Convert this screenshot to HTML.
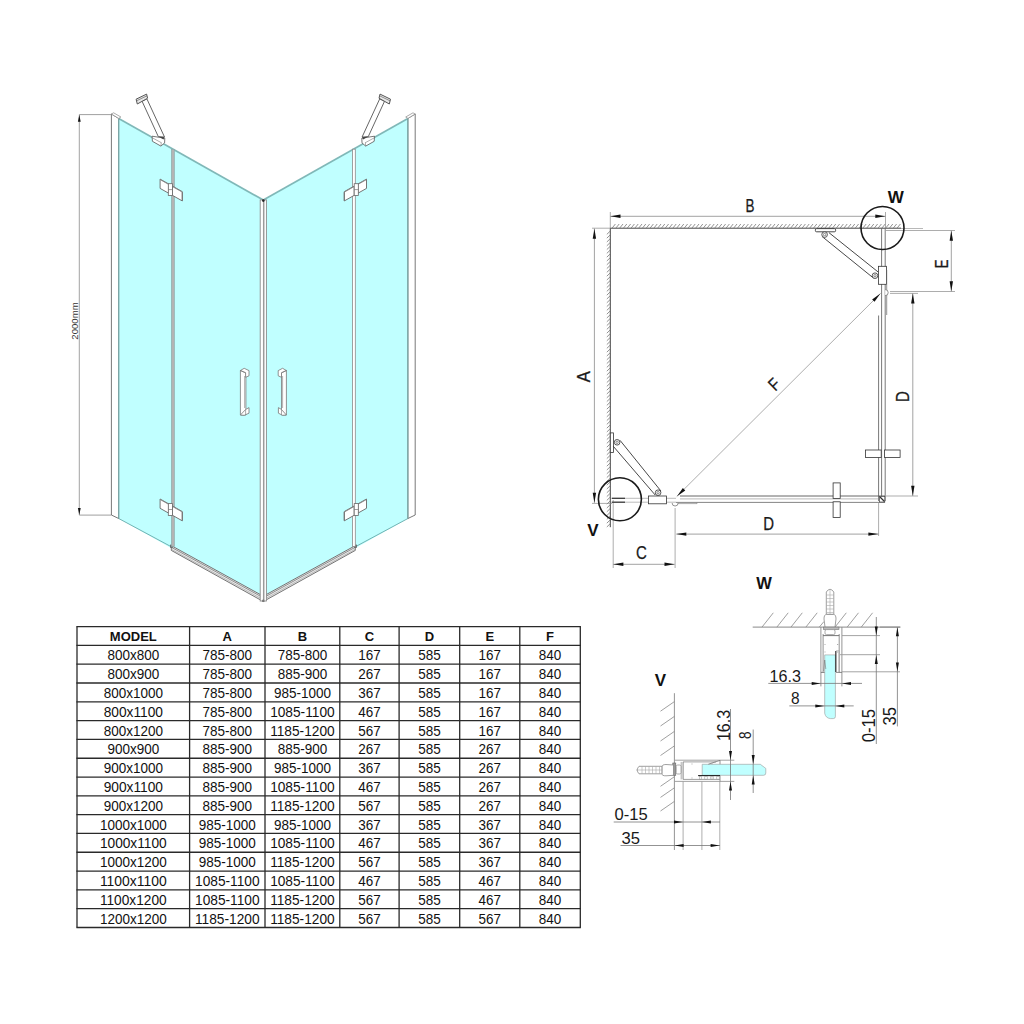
<!DOCTYPE html>
<html><head><meta charset="utf-8"><style>
html,body{margin:0;padding:0;background:#fff;}
svg{display:block;font-family:"Liberation Sans", sans-serif;}
</style></head><body>
<svg width="1024" height="1024" viewBox="0 0 1024 1024">
<rect x="0" y="0" width="1024" height="1024" fill="#fff"/>
<g>
<line x1="76.4" y1="626.6" x2="580.9" y2="626.6" stroke="#2a2a2a" stroke-width="1.3" />
<line x1="76.4" y1="645.41" x2="580.9" y2="645.41" stroke="#2a2a2a" stroke-width="1.3" />
<line x1="76.4" y1="664.21" x2="580.9" y2="664.21" stroke="#2a2a2a" stroke-width="1.3" />
<line x1="76.4" y1="683.02" x2="580.9" y2="683.02" stroke="#2a2a2a" stroke-width="1.3" />
<line x1="76.4" y1="701.83" x2="580.9" y2="701.83" stroke="#2a2a2a" stroke-width="1.3" />
<line x1="76.4" y1="720.63" x2="580.9" y2="720.63" stroke="#2a2a2a" stroke-width="1.3" />
<line x1="76.4" y1="739.44" x2="580.9" y2="739.44" stroke="#2a2a2a" stroke-width="1.3" />
<line x1="76.4" y1="758.24" x2="580.9" y2="758.24" stroke="#2a2a2a" stroke-width="1.3" />
<line x1="76.4" y1="777.05" x2="580.9" y2="777.05" stroke="#2a2a2a" stroke-width="1.3" />
<line x1="76.4" y1="795.86" x2="580.9" y2="795.86" stroke="#2a2a2a" stroke-width="1.3" />
<line x1="76.4" y1="814.66" x2="580.9" y2="814.66" stroke="#2a2a2a" stroke-width="1.3" />
<line x1="76.4" y1="833.47" x2="580.9" y2="833.47" stroke="#2a2a2a" stroke-width="1.3" />
<line x1="76.4" y1="852.27" x2="580.9" y2="852.27" stroke="#2a2a2a" stroke-width="1.3" />
<line x1="76.4" y1="871.08" x2="580.9" y2="871.08" stroke="#2a2a2a" stroke-width="1.3" />
<line x1="76.4" y1="889.89" x2="580.9" y2="889.89" stroke="#2a2a2a" stroke-width="1.3" />
<line x1="76.4" y1="908.69" x2="580.9" y2="908.69" stroke="#2a2a2a" stroke-width="1.3" />
<line x1="76.4" y1="927.5" x2="580.9" y2="927.5" stroke="#2a2a2a" stroke-width="1.3" />
<line x1="77" y1="626.6" x2="77" y2="927.5" stroke="#2a2a2a" stroke-width="1.3" />
<line x1="189.6" y1="626.6" x2="189.6" y2="927.5" stroke="#2a2a2a" stroke-width="1.3" />
<line x1="265" y1="626.6" x2="265" y2="927.5" stroke="#2a2a2a" stroke-width="1.3" />
<line x1="339.8" y1="626.6" x2="339.8" y2="927.5" stroke="#2a2a2a" stroke-width="1.3" />
<line x1="399.1" y1="626.6" x2="399.1" y2="927.5" stroke="#2a2a2a" stroke-width="1.3" />
<line x1="459.7" y1="626.6" x2="459.7" y2="927.5" stroke="#2a2a2a" stroke-width="1.3" />
<line x1="519.8" y1="626.6" x2="519.8" y2="927.5" stroke="#2a2a2a" stroke-width="1.3" />
<line x1="580.3" y1="626.6" x2="580.3" y2="927.5" stroke="#2a2a2a" stroke-width="1.3" />
<text x="133.3" y="640.7" font-size="13" text-anchor="middle" font-weight="bold" fill="#111" >MODEL</text>
<text x="227.3" y="640.7" font-size="13" text-anchor="middle" font-weight="bold" fill="#111" >A</text>
<text x="302.4" y="640.7" font-size="13" text-anchor="middle" font-weight="bold" fill="#111" >B</text>
<text x="369.45" y="640.7" font-size="13" text-anchor="middle" font-weight="bold" fill="#111" >C</text>
<text x="429.4" y="640.7" font-size="13" text-anchor="middle" font-weight="bold" fill="#111" >D</text>
<text x="489.75" y="640.7" font-size="13" text-anchor="middle" font-weight="bold" fill="#111" >E</text>
<text x="550.05" y="640.7" font-size="13" text-anchor="middle" font-weight="bold" fill="#111" >F</text>
<text x="133.3" y="660.41" font-size="14.6" text-anchor="middle" font-weight="normal" fill="#111" textLength="51.79" lengthAdjust="spacingAndGlyphs" >800x800</text>
<text x="227.3" y="660.41" font-size="14.6" text-anchor="middle" font-weight="normal" fill="#111" textLength="49.53" lengthAdjust="spacingAndGlyphs" >785-800</text>
<text x="302.4" y="660.41" font-size="14.6" text-anchor="middle" font-weight="normal" fill="#111" textLength="49.53" lengthAdjust="spacingAndGlyphs" >785-800</text>
<text x="369.45" y="660.41" font-size="14.6" text-anchor="middle" font-weight="normal" fill="#111" textLength="22.52" lengthAdjust="spacingAndGlyphs" >167</text>
<text x="429.4" y="660.41" font-size="14.6" text-anchor="middle" font-weight="normal" fill="#111" textLength="22.52" lengthAdjust="spacingAndGlyphs" >585</text>
<text x="489.75" y="660.41" font-size="14.6" text-anchor="middle" font-weight="normal" fill="#111" textLength="22.52" lengthAdjust="spacingAndGlyphs" >167</text>
<text x="550.05" y="660.41" font-size="14.6" text-anchor="middle" font-weight="normal" fill="#111" textLength="22.52" lengthAdjust="spacingAndGlyphs" >840</text>
<text x="133.3" y="679.22" font-size="14.6" text-anchor="middle" font-weight="normal" fill="#111" textLength="51.79" lengthAdjust="spacingAndGlyphs" >800x900</text>
<text x="227.3" y="679.22" font-size="14.6" text-anchor="middle" font-weight="normal" fill="#111" textLength="49.53" lengthAdjust="spacingAndGlyphs" >785-800</text>
<text x="302.4" y="679.22" font-size="14.6" text-anchor="middle" font-weight="normal" fill="#111" textLength="49.53" lengthAdjust="spacingAndGlyphs" >885-900</text>
<text x="369.45" y="679.22" font-size="14.6" text-anchor="middle" font-weight="normal" fill="#111" textLength="22.52" lengthAdjust="spacingAndGlyphs" >267</text>
<text x="429.4" y="679.22" font-size="14.6" text-anchor="middle" font-weight="normal" fill="#111" textLength="22.52" lengthAdjust="spacingAndGlyphs" >585</text>
<text x="489.75" y="679.22" font-size="14.6" text-anchor="middle" font-weight="normal" fill="#111" textLength="22.52" lengthAdjust="spacingAndGlyphs" >167</text>
<text x="550.05" y="679.22" font-size="14.6" text-anchor="middle" font-weight="normal" fill="#111" textLength="22.52" lengthAdjust="spacingAndGlyphs" >840</text>
<text x="133.3" y="698.02" font-size="14.6" text-anchor="middle" font-weight="normal" fill="#111" textLength="59.29" lengthAdjust="spacingAndGlyphs" >800x1000</text>
<text x="227.3" y="698.02" font-size="14.6" text-anchor="middle" font-weight="normal" fill="#111" textLength="49.53" lengthAdjust="spacingAndGlyphs" >785-800</text>
<text x="302.4" y="698.02" font-size="14.6" text-anchor="middle" font-weight="normal" fill="#111" textLength="57.04" lengthAdjust="spacingAndGlyphs" >985-1000</text>
<text x="369.45" y="698.02" font-size="14.6" text-anchor="middle" font-weight="normal" fill="#111" textLength="22.52" lengthAdjust="spacingAndGlyphs" >367</text>
<text x="429.4" y="698.02" font-size="14.6" text-anchor="middle" font-weight="normal" fill="#111" textLength="22.52" lengthAdjust="spacingAndGlyphs" >585</text>
<text x="489.75" y="698.02" font-size="14.6" text-anchor="middle" font-weight="normal" fill="#111" textLength="22.52" lengthAdjust="spacingAndGlyphs" >167</text>
<text x="550.05" y="698.02" font-size="14.6" text-anchor="middle" font-weight="normal" fill="#111" textLength="22.52" lengthAdjust="spacingAndGlyphs" >840</text>
<text x="133.3" y="716.83" font-size="14.6" text-anchor="middle" font-weight="normal" fill="#111" textLength="59.29" lengthAdjust="spacingAndGlyphs" >800x1100</text>
<text x="227.3" y="716.83" font-size="14.6" text-anchor="middle" font-weight="normal" fill="#111" textLength="49.53" lengthAdjust="spacingAndGlyphs" >785-800</text>
<text x="302.4" y="716.83" font-size="14.6" text-anchor="middle" font-weight="normal" fill="#111" textLength="64.54" lengthAdjust="spacingAndGlyphs" >1085-1100</text>
<text x="369.45" y="716.83" font-size="14.6" text-anchor="middle" font-weight="normal" fill="#111" textLength="22.52" lengthAdjust="spacingAndGlyphs" >467</text>
<text x="429.4" y="716.83" font-size="14.6" text-anchor="middle" font-weight="normal" fill="#111" textLength="22.52" lengthAdjust="spacingAndGlyphs" >585</text>
<text x="489.75" y="716.83" font-size="14.6" text-anchor="middle" font-weight="normal" fill="#111" textLength="22.52" lengthAdjust="spacingAndGlyphs" >167</text>
<text x="550.05" y="716.83" font-size="14.6" text-anchor="middle" font-weight="normal" fill="#111" textLength="22.52" lengthAdjust="spacingAndGlyphs" >840</text>
<text x="133.3" y="735.63" font-size="14.6" text-anchor="middle" font-weight="normal" fill="#111" textLength="59.29" lengthAdjust="spacingAndGlyphs" >800x1200</text>
<text x="227.3" y="735.63" font-size="14.6" text-anchor="middle" font-weight="normal" fill="#111" textLength="49.53" lengthAdjust="spacingAndGlyphs" >785-800</text>
<text x="302.4" y="735.63" font-size="14.6" text-anchor="middle" font-weight="normal" fill="#111" textLength="64.54" lengthAdjust="spacingAndGlyphs" >1185-1200</text>
<text x="369.45" y="735.63" font-size="14.6" text-anchor="middle" font-weight="normal" fill="#111" textLength="22.52" lengthAdjust="spacingAndGlyphs" >567</text>
<text x="429.4" y="735.63" font-size="14.6" text-anchor="middle" font-weight="normal" fill="#111" textLength="22.52" lengthAdjust="spacingAndGlyphs" >585</text>
<text x="489.75" y="735.63" font-size="14.6" text-anchor="middle" font-weight="normal" fill="#111" textLength="22.52" lengthAdjust="spacingAndGlyphs" >167</text>
<text x="550.05" y="735.63" font-size="14.6" text-anchor="middle" font-weight="normal" fill="#111" textLength="22.52" lengthAdjust="spacingAndGlyphs" >840</text>
<text x="133.3" y="754.44" font-size="14.6" text-anchor="middle" font-weight="normal" fill="#111" textLength="51.79" lengthAdjust="spacingAndGlyphs" >900x900</text>
<text x="227.3" y="754.44" font-size="14.6" text-anchor="middle" font-weight="normal" fill="#111" textLength="49.53" lengthAdjust="spacingAndGlyphs" >885-900</text>
<text x="302.4" y="754.44" font-size="14.6" text-anchor="middle" font-weight="normal" fill="#111" textLength="49.53" lengthAdjust="spacingAndGlyphs" >885-900</text>
<text x="369.45" y="754.44" font-size="14.6" text-anchor="middle" font-weight="normal" fill="#111" textLength="22.52" lengthAdjust="spacingAndGlyphs" >267</text>
<text x="429.4" y="754.44" font-size="14.6" text-anchor="middle" font-weight="normal" fill="#111" textLength="22.52" lengthAdjust="spacingAndGlyphs" >585</text>
<text x="489.75" y="754.44" font-size="14.6" text-anchor="middle" font-weight="normal" fill="#111" textLength="22.52" lengthAdjust="spacingAndGlyphs" >267</text>
<text x="550.05" y="754.44" font-size="14.6" text-anchor="middle" font-weight="normal" fill="#111" textLength="22.52" lengthAdjust="spacingAndGlyphs" >840</text>
<text x="133.3" y="773.25" font-size="14.6" text-anchor="middle" font-weight="normal" fill="#111" textLength="59.29" lengthAdjust="spacingAndGlyphs" >900x1000</text>
<text x="227.3" y="773.25" font-size="14.6" text-anchor="middle" font-weight="normal" fill="#111" textLength="49.53" lengthAdjust="spacingAndGlyphs" >885-900</text>
<text x="302.4" y="773.25" font-size="14.6" text-anchor="middle" font-weight="normal" fill="#111" textLength="57.04" lengthAdjust="spacingAndGlyphs" >985-1000</text>
<text x="369.45" y="773.25" font-size="14.6" text-anchor="middle" font-weight="normal" fill="#111" textLength="22.52" lengthAdjust="spacingAndGlyphs" >367</text>
<text x="429.4" y="773.25" font-size="14.6" text-anchor="middle" font-weight="normal" fill="#111" textLength="22.52" lengthAdjust="spacingAndGlyphs" >585</text>
<text x="489.75" y="773.25" font-size="14.6" text-anchor="middle" font-weight="normal" fill="#111" textLength="22.52" lengthAdjust="spacingAndGlyphs" >267</text>
<text x="550.05" y="773.25" font-size="14.6" text-anchor="middle" font-weight="normal" fill="#111" textLength="22.52" lengthAdjust="spacingAndGlyphs" >840</text>
<text x="133.3" y="792.05" font-size="14.6" text-anchor="middle" font-weight="normal" fill="#111" textLength="59.29" lengthAdjust="spacingAndGlyphs" >900x1100</text>
<text x="227.3" y="792.05" font-size="14.6" text-anchor="middle" font-weight="normal" fill="#111" textLength="49.53" lengthAdjust="spacingAndGlyphs" >885-900</text>
<text x="302.4" y="792.05" font-size="14.6" text-anchor="middle" font-weight="normal" fill="#111" textLength="64.54" lengthAdjust="spacingAndGlyphs" >1085-1100</text>
<text x="369.45" y="792.05" font-size="14.6" text-anchor="middle" font-weight="normal" fill="#111" textLength="22.52" lengthAdjust="spacingAndGlyphs" >467</text>
<text x="429.4" y="792.05" font-size="14.6" text-anchor="middle" font-weight="normal" fill="#111" textLength="22.52" lengthAdjust="spacingAndGlyphs" >585</text>
<text x="489.75" y="792.05" font-size="14.6" text-anchor="middle" font-weight="normal" fill="#111" textLength="22.52" lengthAdjust="spacingAndGlyphs" >267</text>
<text x="550.05" y="792.05" font-size="14.6" text-anchor="middle" font-weight="normal" fill="#111" textLength="22.52" lengthAdjust="spacingAndGlyphs" >840</text>
<text x="133.3" y="810.86" font-size="14.6" text-anchor="middle" font-weight="normal" fill="#111" textLength="59.29" lengthAdjust="spacingAndGlyphs" >900x1200</text>
<text x="227.3" y="810.86" font-size="14.6" text-anchor="middle" font-weight="normal" fill="#111" textLength="49.53" lengthAdjust="spacingAndGlyphs" >885-900</text>
<text x="302.4" y="810.86" font-size="14.6" text-anchor="middle" font-weight="normal" fill="#111" textLength="64.54" lengthAdjust="spacingAndGlyphs" >1185-1200</text>
<text x="369.45" y="810.86" font-size="14.6" text-anchor="middle" font-weight="normal" fill="#111" textLength="22.52" lengthAdjust="spacingAndGlyphs" >567</text>
<text x="429.4" y="810.86" font-size="14.6" text-anchor="middle" font-weight="normal" fill="#111" textLength="22.52" lengthAdjust="spacingAndGlyphs" >585</text>
<text x="489.75" y="810.86" font-size="14.6" text-anchor="middle" font-weight="normal" fill="#111" textLength="22.52" lengthAdjust="spacingAndGlyphs" >267</text>
<text x="550.05" y="810.86" font-size="14.6" text-anchor="middle" font-weight="normal" fill="#111" textLength="22.52" lengthAdjust="spacingAndGlyphs" >840</text>
<text x="133.3" y="829.67" font-size="14.6" text-anchor="middle" font-weight="normal" fill="#111" textLength="66.8" lengthAdjust="spacingAndGlyphs" >1000x1000</text>
<text x="227.3" y="829.67" font-size="14.6" text-anchor="middle" font-weight="normal" fill="#111" textLength="57.04" lengthAdjust="spacingAndGlyphs" >985-1000</text>
<text x="302.4" y="829.67" font-size="14.6" text-anchor="middle" font-weight="normal" fill="#111" textLength="57.04" lengthAdjust="spacingAndGlyphs" >985-1000</text>
<text x="369.45" y="829.67" font-size="14.6" text-anchor="middle" font-weight="normal" fill="#111" textLength="22.52" lengthAdjust="spacingAndGlyphs" >367</text>
<text x="429.4" y="829.67" font-size="14.6" text-anchor="middle" font-weight="normal" fill="#111" textLength="22.52" lengthAdjust="spacingAndGlyphs" >585</text>
<text x="489.75" y="829.67" font-size="14.6" text-anchor="middle" font-weight="normal" fill="#111" textLength="22.52" lengthAdjust="spacingAndGlyphs" >367</text>
<text x="550.05" y="829.67" font-size="14.6" text-anchor="middle" font-weight="normal" fill="#111" textLength="22.52" lengthAdjust="spacingAndGlyphs" >840</text>
<text x="133.3" y="848.47" font-size="14.6" text-anchor="middle" font-weight="normal" fill="#111" textLength="66.8" lengthAdjust="spacingAndGlyphs" >1000x1100</text>
<text x="227.3" y="848.47" font-size="14.6" text-anchor="middle" font-weight="normal" fill="#111" textLength="57.04" lengthAdjust="spacingAndGlyphs" >985-1000</text>
<text x="302.4" y="848.47" font-size="14.6" text-anchor="middle" font-weight="normal" fill="#111" textLength="64.54" lengthAdjust="spacingAndGlyphs" >1085-1100</text>
<text x="369.45" y="848.47" font-size="14.6" text-anchor="middle" font-weight="normal" fill="#111" textLength="22.52" lengthAdjust="spacingAndGlyphs" >467</text>
<text x="429.4" y="848.47" font-size="14.6" text-anchor="middle" font-weight="normal" fill="#111" textLength="22.52" lengthAdjust="spacingAndGlyphs" >585</text>
<text x="489.75" y="848.47" font-size="14.6" text-anchor="middle" font-weight="normal" fill="#111" textLength="22.52" lengthAdjust="spacingAndGlyphs" >367</text>
<text x="550.05" y="848.47" font-size="14.6" text-anchor="middle" font-weight="normal" fill="#111" textLength="22.52" lengthAdjust="spacingAndGlyphs" >840</text>
<text x="133.3" y="867.28" font-size="14.6" text-anchor="middle" font-weight="normal" fill="#111" textLength="66.8" lengthAdjust="spacingAndGlyphs" >1000x1200</text>
<text x="227.3" y="867.28" font-size="14.6" text-anchor="middle" font-weight="normal" fill="#111" textLength="57.04" lengthAdjust="spacingAndGlyphs" >985-1000</text>
<text x="302.4" y="867.28" font-size="14.6" text-anchor="middle" font-weight="normal" fill="#111" textLength="64.54" lengthAdjust="spacingAndGlyphs" >1185-1200</text>
<text x="369.45" y="867.28" font-size="14.6" text-anchor="middle" font-weight="normal" fill="#111" textLength="22.52" lengthAdjust="spacingAndGlyphs" >567</text>
<text x="429.4" y="867.28" font-size="14.6" text-anchor="middle" font-weight="normal" fill="#111" textLength="22.52" lengthAdjust="spacingAndGlyphs" >585</text>
<text x="489.75" y="867.28" font-size="14.6" text-anchor="middle" font-weight="normal" fill="#111" textLength="22.52" lengthAdjust="spacingAndGlyphs" >367</text>
<text x="550.05" y="867.28" font-size="14.6" text-anchor="middle" font-weight="normal" fill="#111" textLength="22.52" lengthAdjust="spacingAndGlyphs" >840</text>
<text x="133.3" y="886.08" font-size="14.6" text-anchor="middle" font-weight="normal" fill="#111" textLength="66.8" lengthAdjust="spacingAndGlyphs" >1100x1100</text>
<text x="227.3" y="886.08" font-size="14.6" text-anchor="middle" font-weight="normal" fill="#111" textLength="64.54" lengthAdjust="spacingAndGlyphs" >1085-1100</text>
<text x="302.4" y="886.08" font-size="14.6" text-anchor="middle" font-weight="normal" fill="#111" textLength="64.54" lengthAdjust="spacingAndGlyphs" >1085-1100</text>
<text x="369.45" y="886.08" font-size="14.6" text-anchor="middle" font-weight="normal" fill="#111" textLength="22.52" lengthAdjust="spacingAndGlyphs" >467</text>
<text x="429.4" y="886.08" font-size="14.6" text-anchor="middle" font-weight="normal" fill="#111" textLength="22.52" lengthAdjust="spacingAndGlyphs" >585</text>
<text x="489.75" y="886.08" font-size="14.6" text-anchor="middle" font-weight="normal" fill="#111" textLength="22.52" lengthAdjust="spacingAndGlyphs" >467</text>
<text x="550.05" y="886.08" font-size="14.6" text-anchor="middle" font-weight="normal" fill="#111" textLength="22.52" lengthAdjust="spacingAndGlyphs" >840</text>
<text x="133.3" y="904.89" font-size="14.6" text-anchor="middle" font-weight="normal" fill="#111" textLength="66.8" lengthAdjust="spacingAndGlyphs" >1100x1200</text>
<text x="227.3" y="904.89" font-size="14.6" text-anchor="middle" font-weight="normal" fill="#111" textLength="64.54" lengthAdjust="spacingAndGlyphs" >1085-1100</text>
<text x="302.4" y="904.89" font-size="14.6" text-anchor="middle" font-weight="normal" fill="#111" textLength="64.54" lengthAdjust="spacingAndGlyphs" >1185-1200</text>
<text x="369.45" y="904.89" font-size="14.6" text-anchor="middle" font-weight="normal" fill="#111" textLength="22.52" lengthAdjust="spacingAndGlyphs" >567</text>
<text x="429.4" y="904.89" font-size="14.6" text-anchor="middle" font-weight="normal" fill="#111" textLength="22.52" lengthAdjust="spacingAndGlyphs" >585</text>
<text x="489.75" y="904.89" font-size="14.6" text-anchor="middle" font-weight="normal" fill="#111" textLength="22.52" lengthAdjust="spacingAndGlyphs" >467</text>
<text x="550.05" y="904.89" font-size="14.6" text-anchor="middle" font-weight="normal" fill="#111" textLength="22.52" lengthAdjust="spacingAndGlyphs" >840</text>
<text x="133.3" y="923.7" font-size="14.6" text-anchor="middle" font-weight="normal" fill="#111" textLength="66.8" lengthAdjust="spacingAndGlyphs" >1200x1200</text>
<text x="227.3" y="923.7" font-size="14.6" text-anchor="middle" font-weight="normal" fill="#111" textLength="64.54" lengthAdjust="spacingAndGlyphs" >1185-1200</text>
<text x="302.4" y="923.7" font-size="14.6" text-anchor="middle" font-weight="normal" fill="#111" textLength="64.54" lengthAdjust="spacingAndGlyphs" >1185-1200</text>
<text x="369.45" y="923.7" font-size="14.6" text-anchor="middle" font-weight="normal" fill="#111" textLength="22.52" lengthAdjust="spacingAndGlyphs" >567</text>
<text x="429.4" y="923.7" font-size="14.6" text-anchor="middle" font-weight="normal" fill="#111" textLength="22.52" lengthAdjust="spacingAndGlyphs" >585</text>
<text x="489.75" y="923.7" font-size="14.6" text-anchor="middle" font-weight="normal" fill="#111" textLength="22.52" lengthAdjust="spacingAndGlyphs" >567</text>
<text x="550.05" y="923.7" font-size="14.6" text-anchor="middle" font-weight="normal" fill="#111" textLength="22.52" lengthAdjust="spacingAndGlyphs" >840</text>
</g>
<polygon points="118.7,118.4 263.3,200.1 263.3,600.2 118.7,518.5" fill="#c0ffff" stroke="none" stroke-width="0" />
<polygon points="407.9,118.4 263.3,200.1 263.3,600.2 407.9,518.5" fill="#c0ffff" stroke="none" stroke-width="0" />
<line x1="118.7" y1="118.4" x2="263.3" y2="200.1" stroke="#80b8b8" stroke-width="1.7" />
<line x1="407.9" y1="118.4" x2="263.3" y2="200.1" stroke="#80b8b8" stroke-width="1.7" />
<line x1="118.7" y1="518.5" x2="172.8" y2="547.57" stroke="#6aa" stroke-width="0.9" />
<line x1="407.9" y1="518.5" x2="353.8" y2="547.57" stroke="#6aa" stroke-width="0.9" />
<polygon points="111.4,114 118.7,118.4 118.7,518.5 111.4,515" fill="#fff" stroke="#555" stroke-width="0.8" />
<line x1="118.7" y1="118.4" x2="118.7" y2="518.5" stroke="#7aa" stroke-width="1" />
<polygon points="111.4,114 113.6,112.8 120.9,117 118.7,118.4" fill="#fff" stroke="#888" stroke-width="0.7" />
<polygon points="415.2,114 407.9,118.4 407.9,518.5 415.2,515" fill="#fff" stroke="#555" stroke-width="0.8" />
<line x1="407.9" y1="118.4" x2="407.9" y2="518.5" stroke="#7aa" stroke-width="1" />
<polygon points="415.2,114 413,112.8 405.7,117 407.9,118.4" fill="#fff" stroke="#888" stroke-width="0.7" />
<polygon points="171.3,545.62 263.3,596.2 263.3,601.5 171.3,550.42" fill="#ececec" stroke="#666" stroke-width="0.9" />
<line x1="171.3" y1="547.22" x2="263.3" y2="597.8" stroke="#777" stroke-width="0.8" />
<line x1="171.3" y1="549.22" x2="263.3" y2="599.8" stroke="#999" stroke-width="0.6" />
<rect x="170.1" y="544.62" width="2.8" height="3.2" fill="#666" stroke="none" stroke-width="0" />
<polygon points="355.3,545.62 263.3,596.2 263.3,601.5 355.3,550.42" fill="#ececec" stroke="#666" stroke-width="0.9" />
<line x1="355.3" y1="547.22" x2="263.3" y2="597.8" stroke="#777" stroke-width="0.8" />
<line x1="355.3" y1="549.22" x2="263.3" y2="599.8" stroke="#999" stroke-width="0.6" />
<rect x="354.1" y="544.62" width="2.8" height="3.2" fill="#666" stroke="none" stroke-width="0" />
<rect x="260.2" y="199.9" width="6.2" height="401.1" fill="#fff" stroke="#8a8a8a" stroke-width="0.9" />
<line x1="263.7" y1="200.1" x2="263.7" y2="600.2" stroke="#9a9a9a" stroke-width="1.5" />
<circle cx="263.3" cy="200.6" r="1.3" fill="#222" stroke="none" stroke-width="0"/>
<circle cx="263.3" cy="600.8" r="1.2" fill="#777" stroke="none" stroke-width="0"/>
<rect x="171.3" y="149.27" width="3.1" height="397.2" fill="#b4b4b4" stroke="#8aa" stroke-width="0.6" />
<rect x="352.5" y="149.21" width="2.8" height="397.2" fill="#fff" stroke="#8a8a8a" stroke-width="0.8" />
<polygon points="160.1,179.1 168.6,183.9 168.6,193.2 160.1,188.4" fill="#fff" stroke="#666" stroke-width="0.9" />
<line x1="160.3" y1="179.7" x2="168.4" y2="184.28" stroke="#888" stroke-width="0.9" />
<polygon points="172.4,186.05 182.3,191.64 182.3,200.94 172.4,195.35" fill="#fff" stroke="#666" stroke-width="0.9" />
<line x1="172.6" y1="186.65" x2="182.1" y2="192.02" stroke="#888" stroke-width="0.9" />
<line x1="182.3" y1="192.14" x2="182.3" y2="200.64" stroke="#777" stroke-width="1.1" />
<rect x="168.3" y="183.7" width="4.1" height="11.9" fill="#fff" stroke="#666" stroke-width="0.8" />
<line x1="168.3" y1="189.6" x2="172.4" y2="189.6" stroke="#777" stroke-width="0.7" />
<polygon points="160.1,499 168.6,503.8 168.6,513.1 160.1,508.3" fill="#fff" stroke="#666" stroke-width="0.9" />
<line x1="160.3" y1="499.6" x2="168.4" y2="504.18" stroke="#888" stroke-width="0.9" />
<polygon points="172.4,505.95 182.3,511.54 182.3,520.84 172.4,515.25" fill="#fff" stroke="#666" stroke-width="0.9" />
<line x1="172.6" y1="506.55" x2="182.1" y2="511.92" stroke="#888" stroke-width="0.9" />
<line x1="182.3" y1="512.04" x2="182.3" y2="520.54" stroke="#777" stroke-width="1.1" />
<rect x="168.3" y="503.6" width="4.1" height="11.9" fill="#fff" stroke="#666" stroke-width="0.8" />
<line x1="168.3" y1="509.5" x2="172.4" y2="509.5" stroke="#777" stroke-width="0.7" />
<polygon points="366.5,179.1 358,183.9 358,193.2 366.5,188.4" fill="#fff" stroke="#666" stroke-width="0.9" />
<line x1="366.3" y1="179.7" x2="358.2" y2="184.28" stroke="#888" stroke-width="0.9" />
<polygon points="354.2,186.05 344.3,191.64 344.3,200.94 354.2,195.35" fill="#fff" stroke="#666" stroke-width="0.9" />
<line x1="354" y1="186.65" x2="344.5" y2="192.02" stroke="#888" stroke-width="0.9" />
<line x1="344.3" y1="192.14" x2="344.3" y2="200.64" stroke="#777" stroke-width="1.1" />
<rect x="354.2" y="183.7" width="4.1" height="11.9" fill="#fff" stroke="#666" stroke-width="0.8" />
<line x1="354.2" y1="189.6" x2="358.3" y2="189.6" stroke="#777" stroke-width="0.7" />
<polygon points="366.5,499 358,503.8 358,513.1 366.5,508.3" fill="#fff" stroke="#666" stroke-width="0.9" />
<line x1="366.3" y1="499.6" x2="358.2" y2="504.18" stroke="#888" stroke-width="0.9" />
<polygon points="354.2,505.95 344.3,511.54 344.3,520.84 354.2,515.25" fill="#fff" stroke="#666" stroke-width="0.9" />
<line x1="354" y1="506.55" x2="344.5" y2="511.92" stroke="#888" stroke-width="0.9" />
<line x1="344.3" y1="512.04" x2="344.3" y2="520.54" stroke="#777" stroke-width="1.1" />
<rect x="354.2" y="503.6" width="4.1" height="11.9" fill="#fff" stroke="#666" stroke-width="0.8" />
<line x1="354.2" y1="509.5" x2="358.3" y2="509.5" stroke="#777" stroke-width="0.7" />
<polygon points="142.1,101.3 146.9,98.9 164.5,137 158.4,136.8" fill="#fff" stroke="#555" stroke-width="0.9" />
<polygon points="136.1,99.2 146.6,94.1 147.6,98.2 137.3,104" fill="#e8e8e8" stroke="#555" stroke-width="1.0" />
<line x1="136.6" y1="100.8" x2="147" y2="95.8" stroke="#666" stroke-width="0.7" />
<polygon points="152.1,136.2 164.8,138.2 164.6,142.9 160.9,146.1 152.4,141.3" fill="#fff" stroke="#555" stroke-width="0.8" />
<line x1="152.3" y1="137.8" x2="161.5" y2="142.8" stroke="#777" stroke-width="0.6" />
<line x1="161.2" y1="142.6" x2="161" y2="146" stroke="#777" stroke-width="0.6" />
<polygon points="158.5,136.5 164.5,137.2 163.5,139.5" fill="#444" stroke="none" stroke-width="0" />
<polygon points="384.5,101.3 379.7,98.9 362.1,137 368.2,136.8" fill="#fff" stroke="#555" stroke-width="0.9" />
<polygon points="390.5,99.2 380,94.1 379,98.2 389.3,104" fill="#e8e8e8" stroke="#555" stroke-width="1.0" />
<line x1="390" y1="100.8" x2="379.6" y2="95.8" stroke="#666" stroke-width="0.7" />
<polygon points="374.5,136.2 361.8,138.2 362,142.9 365.7,146.1 374.2,141.3" fill="#fff" stroke="#555" stroke-width="0.8" />
<line x1="374.3" y1="137.8" x2="365.1" y2="142.8" stroke="#777" stroke-width="0.6" />
<line x1="365.4" y1="142.6" x2="365.6" y2="146" stroke="#777" stroke-width="0.6" />
<polygon points="368.1,136.5 362.1,137.2 363.1,139.5" fill="#444" stroke="none" stroke-width="0" />
<polygon points="240.4,370.5 245.9,370.5 245.9,415 240.4,415" fill="#fff" stroke="#777" stroke-width="0.8" />
<line x1="244.6" y1="376" x2="244.6" y2="408" stroke="#aaa" stroke-width="0.9" />
<polygon points="240.4,370.5 244.2,368.3 249,370.6 249,375.8 245.6,377.3 245.6,372.8" fill="#fff" stroke="#777" stroke-width="0.8" />
<line x1="240.4" y1="370.5" x2="245.6" y2="372.8" stroke="#777" stroke-width="0.7" />
<polygon points="245.6,409.5 249,407.6 249,413.2 244.2,415.3 240.4,415" fill="#fff" stroke="#777" stroke-width="0.8" />
<line x1="245.6" y1="409.5" x2="245.6" y2="415" stroke="#888" stroke-width="0.7" />
<polygon points="281.5,370.5 286.4,370.5 286.4,415 281.5,415" fill="#fff" stroke="#777" stroke-width="0.8" />
<line x1="282.6" y1="376" x2="282.6" y2="408" stroke="#aaa" stroke-width="0.9" />
<polygon points="286.4,370.5 282.6,368.3 278.2,370.6 278.2,375.8 281.5,377.3 281.5,372.8" fill="#fff" stroke="#777" stroke-width="0.8" />
<line x1="286.4" y1="370.5" x2="281.5" y2="372.8" stroke="#777" stroke-width="0.7" />
<polygon points="281.5,409.5 278.4,407.6 278.4,413.2 282.6,415.3 286.4,415" fill="#fff" stroke="#777" stroke-width="0.8" />
<line x1="281.5" y1="409.5" x2="281.5" y2="415" stroke="#888" stroke-width="0.7" />
<line x1="79.3" y1="114.6" x2="79.3" y2="515.1" stroke="#8a8a8a" stroke-width="0.8" />
<line x1="79.3" y1="114.6" x2="111.4" y2="114.6" stroke="#888" stroke-width="0.8" />
<line x1="79.3" y1="515.1" x2="111.4" y2="515.1" stroke="#888" stroke-width="0.8" />
<polygon points="79.3,114.8 80.7,121.8 77.9,121.8" fill="#111" stroke="none" stroke-width="0" />
<polygon points="79.3,514.9 77.9,507.9 80.7,507.9" fill="#111" stroke="none" stroke-width="0" />
<text x="0" y="0" font-size="9.6" text-anchor="middle" font-weight="normal" fill="#333" transform="translate(77.6,321) rotate(-90)">2000mm</text>
<line x1="610.3" y1="228.2" x2="901" y2="228.2" stroke="#444" stroke-width="1" />
<line x1="901" y1="228.5" x2="923" y2="228.5" stroke="#999" stroke-width="0.7" />
<line x1="612" y1="228.2" x2="615.4" y2="224" stroke="#777" stroke-width="0.8" />
<line x1="615.8" y1="228.2" x2="619.2" y2="224" stroke="#777" stroke-width="0.8" />
<line x1="619.6" y1="228.2" x2="623" y2="224" stroke="#777" stroke-width="0.8" />
<line x1="623.4" y1="228.2" x2="626.8" y2="224" stroke="#777" stroke-width="0.8" />
<line x1="627.2" y1="228.2" x2="630.6" y2="224" stroke="#777" stroke-width="0.8" />
<line x1="631" y1="228.2" x2="634.4" y2="224" stroke="#777" stroke-width="0.8" />
<line x1="634.8" y1="228.2" x2="638.2" y2="224" stroke="#777" stroke-width="0.8" />
<line x1="638.6" y1="228.2" x2="642" y2="224" stroke="#777" stroke-width="0.8" />
<line x1="642.4" y1="228.2" x2="645.8" y2="224" stroke="#777" stroke-width="0.8" />
<line x1="646.2" y1="228.2" x2="649.6" y2="224" stroke="#777" stroke-width="0.8" />
<line x1="650" y1="228.2" x2="653.4" y2="224" stroke="#777" stroke-width="0.8" />
<line x1="653.8" y1="228.2" x2="657.2" y2="224" stroke="#777" stroke-width="0.8" />
<line x1="657.6" y1="228.2" x2="661" y2="224" stroke="#777" stroke-width="0.8" />
<line x1="661.4" y1="228.2" x2="664.8" y2="224" stroke="#777" stroke-width="0.8" />
<line x1="665.2" y1="228.2" x2="668.6" y2="224" stroke="#777" stroke-width="0.8" />
<line x1="669" y1="228.2" x2="672.4" y2="224" stroke="#777" stroke-width="0.8" />
<line x1="672.8" y1="228.2" x2="676.2" y2="224" stroke="#777" stroke-width="0.8" />
<line x1="676.6" y1="228.2" x2="680" y2="224" stroke="#777" stroke-width="0.8" />
<line x1="680.4" y1="228.2" x2="683.8" y2="224" stroke="#777" stroke-width="0.8" />
<line x1="684.2" y1="228.2" x2="687.6" y2="224" stroke="#777" stroke-width="0.8" />
<line x1="688" y1="228.2" x2="691.4" y2="224" stroke="#777" stroke-width="0.8" />
<line x1="691.8" y1="228.2" x2="695.2" y2="224" stroke="#777" stroke-width="0.8" />
<line x1="695.6" y1="228.2" x2="699" y2="224" stroke="#777" stroke-width="0.8" />
<line x1="699.4" y1="228.2" x2="702.8" y2="224" stroke="#777" stroke-width="0.8" />
<line x1="703.2" y1="228.2" x2="706.6" y2="224" stroke="#777" stroke-width="0.8" />
<line x1="707" y1="228.2" x2="710.4" y2="224" stroke="#777" stroke-width="0.8" />
<line x1="710.8" y1="228.2" x2="714.2" y2="224" stroke="#777" stroke-width="0.8" />
<line x1="714.6" y1="228.2" x2="718" y2="224" stroke="#777" stroke-width="0.8" />
<line x1="718.4" y1="228.2" x2="721.8" y2="224" stroke="#777" stroke-width="0.8" />
<line x1="722.2" y1="228.2" x2="725.6" y2="224" stroke="#777" stroke-width="0.8" />
<line x1="726" y1="228.2" x2="729.4" y2="224" stroke="#777" stroke-width="0.8" />
<line x1="729.8" y1="228.2" x2="733.2" y2="224" stroke="#777" stroke-width="0.8" />
<line x1="733.6" y1="228.2" x2="737" y2="224" stroke="#777" stroke-width="0.8" />
<line x1="737.4" y1="228.2" x2="740.8" y2="224" stroke="#777" stroke-width="0.8" />
<line x1="741.2" y1="228.2" x2="744.6" y2="224" stroke="#777" stroke-width="0.8" />
<line x1="745" y1="228.2" x2="748.4" y2="224" stroke="#777" stroke-width="0.8" />
<line x1="748.8" y1="228.2" x2="752.2" y2="224" stroke="#777" stroke-width="0.8" />
<line x1="752.6" y1="228.2" x2="756" y2="224" stroke="#777" stroke-width="0.8" />
<line x1="756.4" y1="228.2" x2="759.8" y2="224" stroke="#777" stroke-width="0.8" />
<line x1="760.2" y1="228.2" x2="763.6" y2="224" stroke="#777" stroke-width="0.8" />
<line x1="764" y1="228.2" x2="767.4" y2="224" stroke="#777" stroke-width="0.8" />
<line x1="767.8" y1="228.2" x2="771.2" y2="224" stroke="#777" stroke-width="0.8" />
<line x1="771.6" y1="228.2" x2="775" y2="224" stroke="#777" stroke-width="0.8" />
<line x1="775.4" y1="228.2" x2="778.8" y2="224" stroke="#777" stroke-width="0.8" />
<line x1="779.2" y1="228.2" x2="782.6" y2="224" stroke="#777" stroke-width="0.8" />
<line x1="783" y1="228.2" x2="786.4" y2="224" stroke="#777" stroke-width="0.8" />
<line x1="786.8" y1="228.2" x2="790.2" y2="224" stroke="#777" stroke-width="0.8" />
<line x1="790.6" y1="228.2" x2="794" y2="224" stroke="#777" stroke-width="0.8" />
<line x1="794.4" y1="228.2" x2="797.8" y2="224" stroke="#777" stroke-width="0.8" />
<line x1="798.2" y1="228.2" x2="801.6" y2="224" stroke="#777" stroke-width="0.8" />
<line x1="802" y1="228.2" x2="805.4" y2="224" stroke="#777" stroke-width="0.8" />
<line x1="805.8" y1="228.2" x2="809.2" y2="224" stroke="#777" stroke-width="0.8" />
<line x1="809.6" y1="228.2" x2="813" y2="224" stroke="#777" stroke-width="0.8" />
<line x1="813.4" y1="228.2" x2="816.8" y2="224" stroke="#777" stroke-width="0.8" />
<line x1="817.2" y1="228.2" x2="820.6" y2="224" stroke="#777" stroke-width="0.8" />
<line x1="821" y1="228.2" x2="824.4" y2="224" stroke="#777" stroke-width="0.8" />
<line x1="824.8" y1="228.2" x2="828.2" y2="224" stroke="#777" stroke-width="0.8" />
<line x1="828.6" y1="228.2" x2="832" y2="224" stroke="#777" stroke-width="0.8" />
<line x1="832.4" y1="228.2" x2="835.8" y2="224" stroke="#777" stroke-width="0.8" />
<line x1="836.2" y1="228.2" x2="839.6" y2="224" stroke="#777" stroke-width="0.8" />
<line x1="840" y1="228.2" x2="843.4" y2="224" stroke="#777" stroke-width="0.8" />
<line x1="843.8" y1="228.2" x2="847.2" y2="224" stroke="#777" stroke-width="0.8" />
<line x1="847.6" y1="228.2" x2="851" y2="224" stroke="#777" stroke-width="0.8" />
<line x1="851.4" y1="228.2" x2="854.8" y2="224" stroke="#777" stroke-width="0.8" />
<line x1="855.2" y1="228.2" x2="858.6" y2="224" stroke="#777" stroke-width="0.8" />
<line x1="859" y1="228.2" x2="862.4" y2="224" stroke="#777" stroke-width="0.8" />
<line x1="862.8" y1="228.2" x2="866.2" y2="224" stroke="#777" stroke-width="0.8" />
<line x1="866.6" y1="228.2" x2="870" y2="224" stroke="#777" stroke-width="0.8" />
<line x1="870.4" y1="228.2" x2="873.8" y2="224" stroke="#777" stroke-width="0.8" />
<line x1="874.2" y1="228.2" x2="877.6" y2="224" stroke="#777" stroke-width="0.8" />
<line x1="878" y1="228.2" x2="881.4" y2="224" stroke="#777" stroke-width="0.8" />
<line x1="881.8" y1="228.2" x2="885.2" y2="224" stroke="#777" stroke-width="0.8" />
<line x1="885.6" y1="228.2" x2="889" y2="224" stroke="#777" stroke-width="0.8" />
<line x1="889.4" y1="228.2" x2="892.8" y2="224" stroke="#777" stroke-width="0.8" />
<line x1="893.2" y1="228.2" x2="896.6" y2="224" stroke="#777" stroke-width="0.8" />
<line x1="897" y1="228.2" x2="900.4" y2="224" stroke="#777" stroke-width="0.8" />
<line x1="610.3" y1="228.2" x2="610.3" y2="527.2" stroke="#444" stroke-width="1" />
<line x1="610.3" y1="231" x2="606.8" y2="234.4" stroke="#777" stroke-width="0.8" />
<line x1="610.3" y1="234.8" x2="606.8" y2="238.2" stroke="#777" stroke-width="0.8" />
<line x1="610.3" y1="238.6" x2="606.8" y2="242" stroke="#777" stroke-width="0.8" />
<line x1="610.3" y1="242.4" x2="606.8" y2="245.8" stroke="#777" stroke-width="0.8" />
<line x1="610.3" y1="246.2" x2="606.8" y2="249.6" stroke="#777" stroke-width="0.8" />
<line x1="610.3" y1="250" x2="606.8" y2="253.4" stroke="#777" stroke-width="0.8" />
<line x1="610.3" y1="253.8" x2="606.8" y2="257.2" stroke="#777" stroke-width="0.8" />
<line x1="610.3" y1="257.6" x2="606.8" y2="261" stroke="#777" stroke-width="0.8" />
<line x1="610.3" y1="261.4" x2="606.8" y2="264.8" stroke="#777" stroke-width="0.8" />
<line x1="610.3" y1="265.2" x2="606.8" y2="268.6" stroke="#777" stroke-width="0.8" />
<line x1="610.3" y1="269" x2="606.8" y2="272.4" stroke="#777" stroke-width="0.8" />
<line x1="610.3" y1="272.8" x2="606.8" y2="276.2" stroke="#777" stroke-width="0.8" />
<line x1="610.3" y1="276.6" x2="606.8" y2="280" stroke="#777" stroke-width="0.8" />
<line x1="610.3" y1="280.4" x2="606.8" y2="283.8" stroke="#777" stroke-width="0.8" />
<line x1="610.3" y1="284.2" x2="606.8" y2="287.6" stroke="#777" stroke-width="0.8" />
<line x1="610.3" y1="288" x2="606.8" y2="291.4" stroke="#777" stroke-width="0.8" />
<line x1="610.3" y1="291.8" x2="606.8" y2="295.2" stroke="#777" stroke-width="0.8" />
<line x1="610.3" y1="295.6" x2="606.8" y2="299" stroke="#777" stroke-width="0.8" />
<line x1="610.3" y1="299.4" x2="606.8" y2="302.8" stroke="#777" stroke-width="0.8" />
<line x1="610.3" y1="303.2" x2="606.8" y2="306.6" stroke="#777" stroke-width="0.8" />
<line x1="610.3" y1="307" x2="606.8" y2="310.4" stroke="#777" stroke-width="0.8" />
<line x1="610.3" y1="310.8" x2="606.8" y2="314.2" stroke="#777" stroke-width="0.8" />
<line x1="610.3" y1="314.6" x2="606.8" y2="318" stroke="#777" stroke-width="0.8" />
<line x1="610.3" y1="318.4" x2="606.8" y2="321.8" stroke="#777" stroke-width="0.8" />
<line x1="610.3" y1="322.2" x2="606.8" y2="325.6" stroke="#777" stroke-width="0.8" />
<line x1="610.3" y1="326" x2="606.8" y2="329.4" stroke="#777" stroke-width="0.8" />
<line x1="610.3" y1="329.8" x2="606.8" y2="333.2" stroke="#777" stroke-width="0.8" />
<line x1="610.3" y1="333.6" x2="606.8" y2="337" stroke="#777" stroke-width="0.8" />
<line x1="610.3" y1="337.4" x2="606.8" y2="340.8" stroke="#777" stroke-width="0.8" />
<line x1="610.3" y1="341.2" x2="606.8" y2="344.6" stroke="#777" stroke-width="0.8" />
<line x1="610.3" y1="345" x2="606.8" y2="348.4" stroke="#777" stroke-width="0.8" />
<line x1="610.3" y1="348.8" x2="606.8" y2="352.2" stroke="#777" stroke-width="0.8" />
<line x1="610.3" y1="352.6" x2="606.8" y2="356" stroke="#777" stroke-width="0.8" />
<line x1="610.3" y1="356.4" x2="606.8" y2="359.8" stroke="#777" stroke-width="0.8" />
<line x1="610.3" y1="360.2" x2="606.8" y2="363.6" stroke="#777" stroke-width="0.8" />
<line x1="610.3" y1="364" x2="606.8" y2="367.4" stroke="#777" stroke-width="0.8" />
<line x1="610.3" y1="367.8" x2="606.8" y2="371.2" stroke="#777" stroke-width="0.8" />
<line x1="610.3" y1="371.6" x2="606.8" y2="375" stroke="#777" stroke-width="0.8" />
<line x1="610.3" y1="375.4" x2="606.8" y2="378.8" stroke="#777" stroke-width="0.8" />
<line x1="610.3" y1="379.2" x2="606.8" y2="382.6" stroke="#777" stroke-width="0.8" />
<line x1="610.3" y1="383" x2="606.8" y2="386.4" stroke="#777" stroke-width="0.8" />
<line x1="610.3" y1="386.8" x2="606.8" y2="390.2" stroke="#777" stroke-width="0.8" />
<line x1="610.3" y1="390.6" x2="606.8" y2="394" stroke="#777" stroke-width="0.8" />
<line x1="610.3" y1="394.4" x2="606.8" y2="397.8" stroke="#777" stroke-width="0.8" />
<line x1="610.3" y1="398.2" x2="606.8" y2="401.6" stroke="#777" stroke-width="0.8" />
<line x1="610.3" y1="402" x2="606.8" y2="405.4" stroke="#777" stroke-width="0.8" />
<line x1="610.3" y1="405.8" x2="606.8" y2="409.2" stroke="#777" stroke-width="0.8" />
<line x1="610.3" y1="409.6" x2="606.8" y2="413" stroke="#777" stroke-width="0.8" />
<line x1="610.3" y1="413.4" x2="606.8" y2="416.8" stroke="#777" stroke-width="0.8" />
<line x1="610.3" y1="417.2" x2="606.8" y2="420.6" stroke="#777" stroke-width="0.8" />
<line x1="610.3" y1="421" x2="606.8" y2="424.4" stroke="#777" stroke-width="0.8" />
<line x1="610.3" y1="424.8" x2="606.8" y2="428.2" stroke="#777" stroke-width="0.8" />
<line x1="610.3" y1="428.6" x2="606.8" y2="432" stroke="#777" stroke-width="0.8" />
<line x1="610.3" y1="432.4" x2="606.8" y2="435.8" stroke="#777" stroke-width="0.8" />
<line x1="610.3" y1="436.2" x2="606.8" y2="439.6" stroke="#777" stroke-width="0.8" />
<line x1="610.3" y1="440" x2="606.8" y2="443.4" stroke="#777" stroke-width="0.8" />
<line x1="610.3" y1="443.8" x2="606.8" y2="447.2" stroke="#777" stroke-width="0.8" />
<line x1="610.3" y1="447.6" x2="606.8" y2="451" stroke="#777" stroke-width="0.8" />
<line x1="610.3" y1="451.4" x2="606.8" y2="454.8" stroke="#777" stroke-width="0.8" />
<line x1="610.3" y1="455.2" x2="606.8" y2="458.6" stroke="#777" stroke-width="0.8" />
<line x1="610.3" y1="459" x2="606.8" y2="462.4" stroke="#777" stroke-width="0.8" />
<line x1="610.3" y1="462.8" x2="606.8" y2="466.2" stroke="#777" stroke-width="0.8" />
<line x1="610.3" y1="466.6" x2="606.8" y2="470" stroke="#777" stroke-width="0.8" />
<line x1="610.3" y1="470.4" x2="606.8" y2="473.8" stroke="#777" stroke-width="0.8" />
<line x1="610.3" y1="474.2" x2="606.8" y2="477.6" stroke="#777" stroke-width="0.8" />
<line x1="610.3" y1="478" x2="606.8" y2="481.4" stroke="#777" stroke-width="0.8" />
<line x1="610.3" y1="481.8" x2="606.8" y2="485.2" stroke="#777" stroke-width="0.8" />
<line x1="610.3" y1="485.6" x2="606.8" y2="489" stroke="#777" stroke-width="0.8" />
<line x1="610.3" y1="489.4" x2="606.8" y2="492.8" stroke="#777" stroke-width="0.8" />
<line x1="610.3" y1="493.2" x2="606.8" y2="496.6" stroke="#777" stroke-width="0.8" />
<line x1="610.3" y1="497" x2="606.8" y2="500.4" stroke="#777" stroke-width="0.8" />
<line x1="610.3" y1="500.8" x2="606.8" y2="504.2" stroke="#777" stroke-width="0.8" />
<line x1="610.3" y1="504.6" x2="606.8" y2="508" stroke="#777" stroke-width="0.8" />
<line x1="610.3" y1="508.4" x2="606.8" y2="511.8" stroke="#777" stroke-width="0.8" />
<line x1="610.3" y1="512.2" x2="606.8" y2="515.6" stroke="#777" stroke-width="0.8" />
<line x1="610.3" y1="516" x2="606.8" y2="519.4" stroke="#777" stroke-width="0.8" />
<line x1="610.3" y1="519.8" x2="606.8" y2="523.2" stroke="#777" stroke-width="0.8" />
<line x1="610.3" y1="523.6" x2="606.8" y2="527" stroke="#777" stroke-width="0.8" />
<line x1="610.3" y1="216.3" x2="885.5" y2="216.3" stroke="#8a8a8a" stroke-width="0.8" />
<line x1="610.3" y1="212" x2="610.3" y2="228" stroke="#8a8a8a" stroke-width="0.7" />
<line x1="885.5" y1="212" x2="885.5" y2="228" stroke="#8a8a8a" stroke-width="0.7" />
<polygon points="610.5,216.3 620.5,214.6 620.5,218" fill="#111" stroke="none" stroke-width="0" />
<polygon points="885.3,216.3 875.3,218 875.3,214.6" fill="#111" stroke="none" stroke-width="0" />
<text x="750.1" y="211.9" font-size="17.5" text-anchor="middle" font-weight="normal" fill="#1a1a1a" textLength="9" lengthAdjust="spacingAndGlyphs" stroke="#1a1a1a" stroke-width="0.25" >B</text>
<line x1="594.4" y1="228.5" x2="594.4" y2="502.8" stroke="#8a8a8a" stroke-width="0.8" />
<line x1="592" y1="228.2" x2="610.3" y2="228.2" stroke="#8a8a8a" stroke-width="0.7" />
<line x1="592" y1="503.4" x2="612" y2="503.4" stroke="#8a8a8a" stroke-width="0.7" />
<polygon points="594.4,228.7 596.1,238.7 592.7,238.7" fill="#111" stroke="none" stroke-width="0" />
<polygon points="594.4,502.7 592.7,492.7 596.1,492.7" fill="#111" stroke="none" stroke-width="0" />
<text x="0" y="0" font-size="17.5" text-anchor="middle" font-weight="normal" fill="#1a1a1a" textLength="11" lengthAdjust="spacingAndGlyphs" stroke="#1a1a1a" stroke-width="0.25" transform="translate(590,376.7) rotate(-90)">A</text>
<line x1="951.3" y1="230.5" x2="951.3" y2="291.5" stroke="#8a8a8a" stroke-width="0.8" />
<line x1="886" y1="230.5" x2="955" y2="230.5" stroke="#8a8a8a" stroke-width="0.7" />
<line x1="890" y1="291.5" x2="955" y2="291.5" stroke="#8a8a8a" stroke-width="0.7" />
<polygon points="951.3,230.7 953,240.7 949.6,240.7" fill="#111" stroke="none" stroke-width="0" />
<polygon points="951.3,291.3 949.6,281.3 953,281.3" fill="#111" stroke="none" stroke-width="0" />
<text x="0" y="0" font-size="17.5" text-anchor="middle" font-weight="normal" fill="#1a1a1a" textLength="8.8" lengthAdjust="spacingAndGlyphs" stroke="#1a1a1a" stroke-width="0.25" transform="translate(947.9,263.8) rotate(-90)">E</text>
<line x1="912.8" y1="293.4" x2="912.8" y2="496" stroke="#8a8a8a" stroke-width="0.8" />
<line x1="890" y1="293.4" x2="918" y2="293.4" stroke="#8a8a8a" stroke-width="0.7" />
<line x1="886" y1="496" x2="918" y2="496" stroke="#8a8a8a" stroke-width="0.7" />
<polygon points="912.8,293.6 914.5,303.6 911.1,303.6" fill="#111" stroke="none" stroke-width="0" />
<polygon points="912.8,495.8 911.1,485.8 914.5,485.8" fill="#111" stroke="none" stroke-width="0" />
<text x="0" y="0" font-size="17.5" text-anchor="middle" font-weight="normal" fill="#1a1a1a" textLength="10.8" lengthAdjust="spacingAndGlyphs" stroke="#1a1a1a" stroke-width="0.25" transform="translate(908.9,396.6) rotate(-90)">D</text>
<line x1="676.3" y1="534.1" x2="878.6" y2="534.1" stroke="#8a8a8a" stroke-width="0.8" />
<line x1="675.1" y1="508" x2="675.1" y2="568" stroke="#8a8a8a" stroke-width="0.7" />
<line x1="878.6" y1="503" x2="878.6" y2="536" stroke="#8a8a8a" stroke-width="0.7" />
<polygon points="676.3,534.1 686.3,532.4 686.3,535.8" fill="#111" stroke="none" stroke-width="0" />
<polygon points="878.4,534.1 868.4,535.8 868.4,532.4" fill="#111" stroke="none" stroke-width="0" />
<text x="768.7" y="530.3" font-size="17.5" text-anchor="middle" font-weight="normal" fill="#1a1a1a" textLength="10.8" lengthAdjust="spacingAndGlyphs" stroke="#1a1a1a" stroke-width="0.25" >D</text>
<line x1="613.2" y1="564.3" x2="674.7" y2="564.3" stroke="#8a8a8a" stroke-width="0.8" />
<line x1="613.2" y1="500" x2="613.2" y2="568" stroke="#8a8a8a" stroke-width="0.7" />
<polygon points="613.4,564.3 623.4,562.6 623.4,566" fill="#111" stroke="none" stroke-width="0" />
<polygon points="674.5,564.3 664.5,566 664.5,562.6" fill="#111" stroke="none" stroke-width="0" />
<text x="641.3" y="558.7" font-size="17.5" text-anchor="middle" font-weight="normal" fill="#1a1a1a" textLength="10.8" lengthAdjust="spacingAndGlyphs" stroke="#1a1a1a" stroke-width="0.25" >C</text>
<line x1="676.7" y1="496.6" x2="880.6" y2="293.4" stroke="#8a8a8a" stroke-width="0.7" />
<polygon points="677,496.3 682.87,488.03 685.27,490.43" fill="#111" stroke="none" stroke-width="0" />
<polygon points="880.4,293.6 874.53,301.87 872.13,299.47" fill="#111" stroke="none" stroke-width="0" />
<text x="0" y="0" font-size="17.5" text-anchor="middle" font-weight="normal" fill="#1a1a1a" textLength="9.2" lengthAdjust="spacingAndGlyphs" stroke="#1a1a1a" stroke-width="0.25" transform="translate(778.5,388.5) rotate(-45)">F</text>
<line x1="881.6" y1="228.5" x2="881.6" y2="501" stroke="#555" stroke-width="0.8" />
<line x1="885.2" y1="228.5" x2="885.2" y2="501" stroke="#555" stroke-width="0.8" />
<line x1="878.6" y1="315.5" x2="878.6" y2="501" stroke="#555" stroke-width="0.8" />
<line x1="680" y1="496" x2="885" y2="496" stroke="#555" stroke-width="0.9" />
<line x1="680" y1="498.9" x2="885" y2="498.9" stroke="#888" stroke-width="0.6" />
<line x1="676" y1="502.4" x2="885" y2="502.4" stroke="#666" stroke-width="0.8" />
<line x1="611" y1="498.3" x2="676" y2="498.3" stroke="#aaa" stroke-width="0.8" />
<line x1="611" y1="502.2" x2="676" y2="502.2" stroke="#aaa" stroke-width="0.8" />
<rect x="879.5" y="496.5" width="5.3" height="5.5" fill="#fff" stroke="#444" stroke-width="0.7" />
<line x1="880" y1="497" x2="884.5" y2="501.5" stroke="#333" stroke-width="1.2" />
<line x1="676" y1="503.6" x2="697" y2="503.6" stroke="#888" stroke-width="0.7" />
<line x1="697" y1="502.4" x2="697" y2="503.8" stroke="#888" stroke-width="0.6" />
<rect x="815.4" y="228.6" width="20.2" height="3.2" rx="1.2" fill="#fff" stroke="#333" stroke-width="0.9"/>
<line x1="822.2" y1="236.6" x2="873.5" y2="278.1" stroke="#333" stroke-width="0.9" />
<line x1="829" y1="232.7" x2="878.4" y2="272.2" stroke="#333" stroke-width="0.9" />
<circle cx="824.6" cy="234.6" r="2.8" fill="#fff" stroke="#444" stroke-width="0.9"/>
<circle cx="824.6" cy="234.6" r="1.2" fill="none" stroke="#444" stroke-width="0.6"/>
<circle cx="875" cy="275.7" r="2.8" fill="#fff" stroke="#444" stroke-width="0.9"/>
<circle cx="875" cy="275.7" r="1.2" fill="none" stroke="#444" stroke-width="0.6"/>
<rect x="878.6" y="266.3" width="7.8" height="18" fill="#fff" stroke="#333" stroke-width="0.8" />
<line x1="886.7" y1="270" x2="886.7" y2="315" stroke="#666" stroke-width="0.7" />
<path d="M885.2,289.6 A3,3 0 1 1 885.2,295.6" fill="#fff" stroke="#666" stroke-width="0.7"/>
<rect x="610.3" y="432.9" width="3.3" height="19.5" fill="#fff" stroke="#333" stroke-width="0.8" />
<line x1="613.2" y1="446.2" x2="655.2" y2="495" stroke="#333" stroke-width="0.9" />
<line x1="620" y1="440.3" x2="661" y2="491.1" stroke="#333" stroke-width="0.9" />
<circle cx="617.1" cy="442.3" r="2.8" fill="#fff" stroke="#444" stroke-width="0.9"/>
<circle cx="617.1" cy="442.3" r="1.2" fill="none" stroke="#444" stroke-width="0.6"/>
<circle cx="658.1" cy="492.7" r="2.8" fill="#fff" stroke="#444" stroke-width="0.9"/>
<circle cx="658.1" cy="492.7" r="1.2" fill="none" stroke="#444" stroke-width="0.6"/>
<rect x="648.4" y="496" width="18.1" height="7.8" fill="#fff" stroke="#333" stroke-width="0.8" />
<path d="M672.1,503 A3,3 0 1 0 678.1,503" fill="#fff" stroke="#666" stroke-width="0.7"/>
<rect x="865.4" y="450" width="15.8" height="7.5" fill="#fff" stroke="#333" stroke-width="0.8" />
<rect x="884.5" y="450" width="15.6" height="7.5" fill="#fff" stroke="#333" stroke-width="0.8" />
<rect x="833.1" y="482.9" width="7.1" height="15.6" fill="#fff" stroke="#333" stroke-width="0.8" />
<rect x="833.1" y="501.8" width="7.1" height="15.7" fill="#fff" stroke="#333" stroke-width="0.8" />
<circle cx="882.5" cy="228" r="21.5" fill="none" stroke="#1a1a1a" stroke-width="1.6"/>
<circle cx="619.9" cy="499.3" r="21.5" fill="none" stroke="#1a1a1a" stroke-width="1.6"/>
<text x="895.7" y="203.2" font-size="17" text-anchor="middle" font-weight="bold" fill="#111" >W</text>
<text x="593" y="536" font-size="17" text-anchor="middle" font-weight="bold" fill="#111" >V</text>
<line x1="612" y1="498.3" x2="625" y2="498.3" stroke="#333" stroke-width="1.2" />
<line x1="612" y1="502.2" x2="625" y2="502.2" stroke="#333" stroke-width="1.2" />
<text x="764.1" y="588.5" font-size="16.5" text-anchor="middle" font-weight="bold" fill="#111" >W</text>
<line x1="762" y1="627.1" x2="773.3" y2="612.8" stroke="#888" stroke-width="0.8" />
<line x1="776.9" y1="627.1" x2="788.2" y2="612.8" stroke="#888" stroke-width="0.8" />
<line x1="791" y1="627.1" x2="802.3" y2="612.8" stroke="#888" stroke-width="0.8" />
<line x1="805.9" y1="627.1" x2="817.2" y2="612.8" stroke="#888" stroke-width="0.8" />
<line x1="835" y1="627.1" x2="846.3" y2="612.8" stroke="#888" stroke-width="0.8" />
<line x1="847.2" y1="627.1" x2="858.5" y2="612.8" stroke="#888" stroke-width="0.8" />
<line x1="861.3" y1="627.1" x2="872.6" y2="612.8" stroke="#888" stroke-width="0.8" />
<line x1="819.3" y1="627.1" x2="824" y2="621.5" stroke="#888" stroke-width="0.8" />
<line x1="752.7" y1="627.1" x2="900.3" y2="627.1" stroke="#888" stroke-width="1" />
<path d="M826.3,614.4 L826.3,592 Q830,586.5 833.8,592 L833.8,614.4 Z" fill="#fff" stroke="#888" stroke-width="0.8"/>
<line x1="826.3" y1="595" x2="833.8" y2="595" stroke="#aaa" stroke-width="0.6" />
<line x1="826.3" y1="598.5" x2="833.8" y2="598.5" stroke="#aaa" stroke-width="0.6" />
<line x1="826.3" y1="602" x2="833.8" y2="602" stroke="#aaa" stroke-width="0.6" />
<line x1="826.3" y1="605.5" x2="833.8" y2="605.5" stroke="#aaa" stroke-width="0.6" />
<line x1="826.3" y1="609" x2="833.8" y2="609" stroke="#aaa" stroke-width="0.6" />
<line x1="826.3" y1="612.5" x2="833.8" y2="612.5" stroke="#aaa" stroke-width="0.6" />
<line x1="830" y1="589" x2="830" y2="614" stroke="#aaa" stroke-width="0.6" />
<path d="M825,627 L824,619 Q824,614.5 826.5,614.4 L833.5,614.4 Q836,614.5 836,619 L835,627 Z" fill="#fff" stroke="#888" stroke-width="0.8"/>
<rect x="823.5" y="627.1" width="15.5" height="2.5" fill="#bbb" stroke="#777" stroke-width="0.6" />
<rect x="825" y="629.6" width="10" height="5" rx="1.5" fill="#fff" stroke="#888" stroke-width="0.7"/>
<line x1="820.9" y1="627.1" x2="820.9" y2="686.4" stroke="#888" stroke-width="0.9" />
<line x1="841.9" y1="627.1" x2="841.9" y2="686.4" stroke="#888" stroke-width="0.9" />
<line x1="823.1" y1="634" x2="823.1" y2="672.4" stroke="#777" stroke-width="0.8" />
<line x1="839.2" y1="634" x2="839.2" y2="672.4" stroke="#777" stroke-width="0.8" />
<line x1="820.9" y1="672.4" x2="826" y2="672.4" stroke="#666" stroke-width="0.8" />
<line x1="836" y1="672.4" x2="841.9" y2="672.4" stroke="#666" stroke-width="0.8" />
<line x1="823.1" y1="635.6" x2="839.2" y2="635.6" stroke="#666" stroke-width="0.9" />
<line x1="824.5" y1="644.5" x2="825.5" y2="644.5" stroke="#777" stroke-width="0.6" />
<line x1="837" y1="644.5" x2="838.2" y2="644.5" stroke="#777" stroke-width="0.6" />
<line x1="824.5" y1="652" x2="825.5" y2="652" stroke="#777" stroke-width="0.6" />
<line x1="837" y1="652" x2="838.2" y2="652" stroke="#777" stroke-width="0.6" />
<path d="M824.7,654.9 L835.4,654.9 L835.4,716.5 Q835.4,718.6 833.3,718.6 L830.3,718.6 Q825.5,718 824.7,713.2 Z" fill="#c0ffff" stroke="#999" stroke-width="0.6"/>
<line x1="835.8" y1="651" x2="835.8" y2="672" stroke="#222" stroke-width="1.1" />
<rect x="836.2" y="650.8" width="2.8" height="21.6" fill="none" stroke="#999" stroke-width="0.5" />
<path d="M823.6,671 L824.7,660 L825.8,669" fill="none" stroke="#777" stroke-width="0.6"/>
<line x1="842" y1="635.6" x2="880" y2="635.6" stroke="#999" stroke-width="0.9" />
<line x1="840" y1="654.7" x2="880" y2="654.7" stroke="#999" stroke-width="0.9" />
<line x1="842" y1="671.8" x2="900" y2="671.8" stroke="#999" stroke-width="0.9" />
<line x1="876.3" y1="617" x2="876.3" y2="744" stroke="#777" stroke-width="0.8" />
<polygon points="876.3,635.4 874.8,626.4 877.8,626.4" fill="#111" stroke="none" stroke-width="0" />
<polygon points="876.3,654.9 877.8,663.9 874.8,663.9" fill="#111" stroke="none" stroke-width="0" />
<line x1="897.4" y1="627.1" x2="897.4" y2="726.4" stroke="#777" stroke-width="0.8" />
<polygon points="897.4,627.3 898.9,636.3 895.9,636.3" fill="#111" stroke="none" stroke-width="0" />
<polygon points="897.4,671.6 895.9,662.6 898.9,662.6" fill="#111" stroke="none" stroke-width="0" />
<line x1="880" y1="627.1" x2="900.3" y2="627.1" stroke="#888" stroke-width="0.9" />
<text x="0" y="0" font-size="17.5" text-anchor="start" font-weight="normal" fill="#1a1a1a" textLength="33.4" lengthAdjust="spacingAndGlyphs" transform="translate(875.2,742.3) rotate(-90)">0-15</text>
<text x="0" y="0" font-size="17.5" text-anchor="start" font-weight="normal" fill="#1a1a1a" textLength="18.5" lengthAdjust="spacingAndGlyphs" transform="translate(896.3,725.6) rotate(-90)">35</text>
<text x="769.6" y="682" font-size="17" text-anchor="start" font-weight="normal" fill="#1a1a1a" textLength="31.4" lengthAdjust="spacingAndGlyphs" >16.3</text>
<line x1="768.3" y1="683.4" x2="862" y2="683.4" stroke="#777" stroke-width="0.8" />
<polygon points="820.7,683.4 811.7,684.9 811.7,681.9" fill="#111" stroke="none" stroke-width="0" />
<polygon points="842,683.4 851,681.9 851,684.9" fill="#111" stroke="none" stroke-width="0" />
<text x="791" y="704.4" font-size="16.5" text-anchor="start" font-weight="normal" fill="#1a1a1a" textLength="8.6" lengthAdjust="spacingAndGlyphs" >8</text>
<line x1="789.3" y1="705.9" x2="853.7" y2="705.9" stroke="#777" stroke-width="0.8" />
<polygon points="824.3,705.9 815.3,707.4 815.3,704.4" fill="#111" stroke="none" stroke-width="0" />
<polygon points="835.3,705.9 844.3,704.4 844.3,707.4" fill="#111" stroke="none" stroke-width="0" />
<text x="660.5" y="686.4" font-size="17" text-anchor="middle" font-weight="bold" fill="#111" >V</text>
<line x1="674.4" y1="693.2" x2="674.4" y2="850" stroke="#888" stroke-width="0.9" />
<line x1="660.5" y1="711.2" x2="674.4" y2="701.6" stroke="#888" stroke-width="0.8" />
<line x1="660.5" y1="726" x2="674.4" y2="716.4" stroke="#888" stroke-width="0.8" />
<line x1="660.5" y1="741" x2="674.4" y2="731.4" stroke="#888" stroke-width="0.8" />
<line x1="660.5" y1="755.5" x2="674.4" y2="745.9" stroke="#888" stroke-width="0.8" />
<line x1="660.5" y1="786.3" x2="674.4" y2="776.7" stroke="#888" stroke-width="0.8" />
<line x1="660.5" y1="797.4" x2="674.4" y2="787.8" stroke="#888" stroke-width="0.8" />
<line x1="660.5" y1="811" x2="674.4" y2="801.4" stroke="#888" stroke-width="0.8" />
<line x1="669" y1="773.6" x2="674.4" y2="770" stroke="#888" stroke-width="0.8" />
<line x1="674.4" y1="760.2" x2="734.3" y2="760.2" stroke="#999" stroke-width="0.9" />
<line x1="674.4" y1="781.4" x2="734.3" y2="781.4" stroke="#999" stroke-width="0.9" />
<line x1="720" y1="760.2" x2="720" y2="781.4" stroke="#777" stroke-width="0.8" />
<line x1="683.1" y1="761.9" x2="683.1" y2="779.4" stroke="#666" stroke-width="0.8" />
<line x1="681.2" y1="761.9" x2="681.2" y2="779.4" stroke="#888" stroke-width="0.7" />
<line x1="683.1" y1="761.9" x2="716" y2="761.9" stroke="#777" stroke-width="0.7" />
<line x1="683.1" y1="779.4" x2="720" y2="779.4" stroke="#777" stroke-width="0.7" />
<line x1="692" y1="763.5" x2="692" y2="764.5" stroke="#777" stroke-width="0.6" />
<line x1="692" y1="777.5" x2="692" y2="778.5" stroke="#777" stroke-width="0.6" />
<line x1="712" y1="763.5" x2="712" y2="764.5" stroke="#777" stroke-width="0.6" />
<line x1="712" y1="777.5" x2="712" y2="778.5" stroke="#777" stroke-width="0.6" />
<path d="M702.2,764.3 L760.3,764.3 L765.8,768.4 L765.8,773 Q765.8,775.3 763.5,775.3 L702.2,775.3 Z" fill="#c0ffff" stroke="#999" stroke-width="0.6"/>
<line x1="698.1" y1="775.6" x2="720" y2="775.6" stroke="#222" stroke-width="1.1" />
<line x1="708.4" y1="764.2" x2="720" y2="760.4" stroke="#777" stroke-width="0.8" />
<rect x="699.3" y="776.3" width="2.4" height="2.9" fill="none" stroke="#999" stroke-width="0.5" />
<rect x="704.8" y="776.3" width="2.4" height="2.9" fill="none" stroke="#999" stroke-width="0.5" />
<rect x="710.8" y="776.3" width="2.4" height="2.9" fill="none" stroke="#999" stroke-width="0.5" />
<rect x="716.8" y="776.3" width="2.4" height="2.9" fill="none" stroke="#999" stroke-width="0.5" />
<rect x="672.8" y="763" width="3" height="12.3" fill="#999" stroke="#666" stroke-width="0.6" />
<rect x="676.2" y="765" width="4.8" height="9" rx="1.5" fill="#fff" stroke="#888" stroke-width="0.7"/>
<path d="M673.5,765 L666,764.5 Q661.9,764.5 661.9,767 L661.9,773.5 Q661.9,776 666,775.8 L673.5,775.3 Z" fill="#fff" stroke="#888" stroke-width="0.8"/>
<path d="M661.9,766.3 L639,766.3 Q635.5,770 639,773.8 L661.9,773.8 Z" fill="#fff" stroke="#888" stroke-width="0.8"/>
<line x1="642" y1="766.3" x2="642" y2="773.8" stroke="#aaa" stroke-width="0.6" />
<line x1="645.5" y1="766.3" x2="645.5" y2="773.8" stroke="#aaa" stroke-width="0.6" />
<line x1="649" y1="766.3" x2="649" y2="773.8" stroke="#aaa" stroke-width="0.6" />
<line x1="652.5" y1="766.3" x2="652.5" y2="773.8" stroke="#aaa" stroke-width="0.6" />
<line x1="656" y1="766.3" x2="656" y2="773.8" stroke="#aaa" stroke-width="0.6" />
<line x1="659.5" y1="766.3" x2="659.5" y2="773.8" stroke="#aaa" stroke-width="0.6" />
<line x1="636" y1="770" x2="662" y2="770" stroke="#aaa" stroke-width="0.6" />
<text x="0" y="0" font-size="17.5" text-anchor="start" font-weight="normal" fill="#1a1a1a" textLength="31.4" lengthAdjust="spacingAndGlyphs" transform="translate(729.8,741.1) rotate(-90)">16.3</text>
<line x1="730.5" y1="709" x2="730.5" y2="800" stroke="#777" stroke-width="0.8" />
<polygon points="730.5,760 729,751 732,751" fill="#111" stroke="none" stroke-width="0" />
<polygon points="730.5,781.6 732,790.6 729,790.6" fill="#111" stroke="none" stroke-width="0" />
<text x="0" y="0" font-size="17" text-anchor="start" font-weight="normal" fill="#1a1a1a" textLength="7.5" lengthAdjust="spacingAndGlyphs" transform="translate(751.2,739) rotate(-90)">8</text>
<line x1="753.2" y1="729.5" x2="753.2" y2="793" stroke="#777" stroke-width="0.8" />
<polygon points="753.2,764.1 751.7,755.1 754.7,755.1" fill="#111" stroke="none" stroke-width="0" />
<polygon points="753.2,775.5 754.7,784.5 751.7,784.5" fill="#111" stroke="none" stroke-width="0" />
<line x1="683.1" y1="781.4" x2="683.1" y2="850" stroke="#999" stroke-width="0.8" />
<line x1="701.9" y1="781.4" x2="701.9" y2="850" stroke="#999" stroke-width="0.8" />
<line x1="719.8" y1="781.4" x2="719.8" y2="850" stroke="#999" stroke-width="0.8" />
<text x="614.6" y="820.1" font-size="16.5" text-anchor="start" font-weight="normal" fill="#1a1a1a" textLength="33.2" lengthAdjust="spacingAndGlyphs" >0-15</text>
<line x1="613.7" y1="822" x2="720" y2="822" stroke="#777" stroke-width="0.8" />
<polygon points="683,822 674,823.5 674,820.5" fill="#111" stroke="none" stroke-width="0" />
<polygon points="701.9,822 710.9,820.5 710.9,823.5" fill="#111" stroke="none" stroke-width="0" />
<text x="621.5" y="843.5" font-size="16.5" text-anchor="start" font-weight="normal" fill="#1a1a1a" textLength="18.5" lengthAdjust="spacingAndGlyphs" >35</text>
<line x1="620.5" y1="845.5" x2="720" y2="845.5" stroke="#777" stroke-width="0.8" />
<polygon points="674.6,845.5 683.6,844 683.6,847" fill="#111" stroke="none" stroke-width="0" />
<polygon points="719.6,845.5 710.6,847 710.6,844" fill="#111" stroke="none" stroke-width="0" />
</svg>
</body></html>
